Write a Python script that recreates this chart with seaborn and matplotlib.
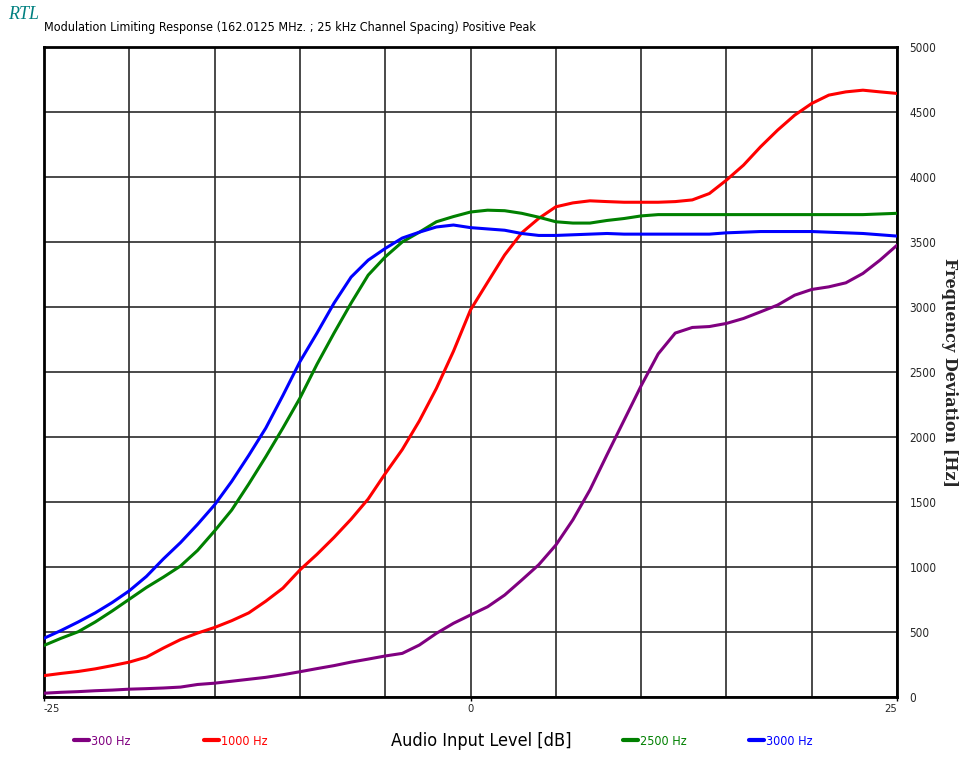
import numpy as np
import pandas as pd
import matplotlib
matplotlib.use("Agg")
import matplotlib.pyplot as plt
import seaborn as sns

# ---------------- data ----------------
x_db = list(range(-25, 26))

hz300 = [33, 40, 45, 52, 57, 64, 68, 73, 80, 100, 110, 125, 140, 155, 175, 198,
         222, 245, 272, 295, 319, 339, 403, 493, 570, 634, 697, 787, 902, 1020,
         1171, 1365, 1595, 1865, 2130, 2395, 2640, 2800, 2843, 2850, 2874, 2912,
         2963, 3015, 3091, 3135, 3155, 3186, 3258, 3360, 3475]

hz1000 = [168, 185, 200, 220, 245, 272, 310, 380, 445, 495, 538, 590, 650, 740,
          840, 980, 1100, 1230, 1370, 1525, 1720, 1905, 2125, 2375, 2660, 2978,
          3190, 3400, 3570, 3681, 3770, 3800, 3816, 3810, 3805, 3805, 3805, 3810,
          3823, 3872, 3975, 4090, 4231, 4359, 4474, 4564, 4628, 4653, 4666, 4653,
          4641]

hz2500 = [400, 455, 505, 580, 665, 755, 845, 925, 1010, 1130, 1280, 1440, 1640,
          1850, 2070, 2300, 2560, 2800, 3030, 3245, 3385, 3500, 3575, 3655, 3695,
          3730, 3744, 3740, 3720, 3690, 3655, 3645, 3645, 3665, 3680, 3700, 3710,
          3710, 3710, 3710, 3710, 3710, 3710, 3710, 3710, 3710, 3710, 3710, 3710,
          3715, 3720]

hz3000 = [455, 515, 580, 650, 730, 820, 930, 1065, 1190, 1330, 1480, 1660, 1860,
          2070, 2320, 2580, 2800, 3030, 3230, 3360, 3450, 3530, 3575, 3615, 3630,
          3610, 3600, 3590, 3565, 3550, 3550, 3555, 3560, 3565, 3560, 3560, 3560,
          3560, 3560, 3560, 3570, 3575, 3580, 3580, 3580, 3580, 3575, 3570, 3565,
          3555, 3545]

series_names = ["300 Hz", "1000 Hz", "2500 Hz", "3000 Hz"]
series_colors = ["#800080", "#FF0000", "#008000", "#0000FF"]
x_ticks = [-25, 0, 25]
y_ticks = list(range(0, 5001, 500))

title = "Modulation Limiting Response (162.0125 MHz. ; 25 kHz Channel Spacing) Positive Peak"
brand = "RTL"
x_label = "Audio Input Level [dB]"
y_label = "Frequency Deviation [Hz]"

# ---------------- build long-form table ----------------
frames = []
for name, vals in zip(series_names, [hz300, hz1000, hz2500, hz3000]):
    frames.append(pd.DataFrame({"x": x_db, "y": vals, "series": name}))
df = pd.concat(frames, ignore_index=True)

sns.set_theme(style="white")
plt.rcParams["font.family"] = ["DejaVu Sans"]
plt.rcParams["font.stretch"] = "condensed"

fig = plt.figure(figsize=(9.63, 7.57), dpi=100)
ax = fig.add_axes([0.0457, 0.0786, 0.8858, 0.8597])

sns.lineplot(data=df, x="x", y="y", hue="series", hue_order=series_names,
             palette=dict(zip(series_names, series_colors)), linewidth=2.2,
             legend=False, ax=ax, zorder=3)

ax.set_xlim(-25, 25)
ax.set_ylim(0, 5000)
ax.set_xticks(np.arange(-25, 26, 5), minor=True)
ax.set_xticks(x_ticks)
ax.set_xticklabels([str(t) for t in x_ticks], fontsize=8, stretch="condensed")
xl = ax.get_xticklabels()
xl[0].set_ha("left")
xl[-1].set_ha("right")
ax.set_yticks(y_ticks)
ax.set_yticklabels([str(t) for t in y_ticks], fontsize=8.5, stretch="condensed")
yl = ax.get_yticklabels()
yl[0].set_va("bottom")
yl[-1].set_va("top")
ax.yaxis.tick_right()
ax.tick_params(axis="y", length=0, pad=9)
ax.tick_params(axis="x", which="major", length=3, width=1, color="black", pad=2,
               direction="out", bottom=True)
ax.tick_params(axis="x", which="minor", length=0)
ax.grid(True, which="both", axis="x", color="#2a2a2a", linewidth=1.2)
ax.grid(True, which="major", axis="y", color="#2a2a2a", linewidth=1.2)
ax.set_xlabel("")
ax.set_ylabel("")
for sp in ax.spines.values():
    sp.set_visible(True)
    sp.set_color("black")
    sp.set_linewidth(2)

# y label on the right
fig.text(0.986, 0.508, y_label, rotation=270, ha="center", va="center",
         fontsize=11.5, fontweight="bold", family=["DejaVu Serif"], stretch="normal")

# titles
fig.text(0.008, 0.981, brand, ha="left", va="center", fontsize=13, style="italic",
         color="#008080", family=["Liberation Serif", "DejaVu Serif"], stretch="normal")
fig.text(0.0457, 0.964, title, ha="left", va="center", fontsize=9, color="black")

# x label
fig.text(0.5, 0.021, x_label, ha="center", va="center", fontsize=13, color="black")

# legends
lines = ax.get_lines()
leg1 = fig.legend(lines[0:2], series_names[0:2], loc="center", bbox_to_anchor=(0.177, 0.021),
                  ncol=2, frameon=False, fontsize=9, handlelength=1.2, handletextpad=0.15,
                  columnspacing=5.9, labelcolor=series_colors[0:2])
for h in leg1.legend_handles:
    h.set_linewidth(3)
leg2 = fig.legend(lines[2:4], series_names[2:4], loc="center", bbox_to_anchor=(0.745, 0.021),
                  ncol=2, frameon=False, fontsize=9, handlelength=1.2, handletextpad=0.15,
                  columnspacing=5.0, labelcolor=series_colors[2:4])
for h in leg2.legend_handles:
    h.set_linewidth(3)

fig.savefig("out.png", dpi=100)
